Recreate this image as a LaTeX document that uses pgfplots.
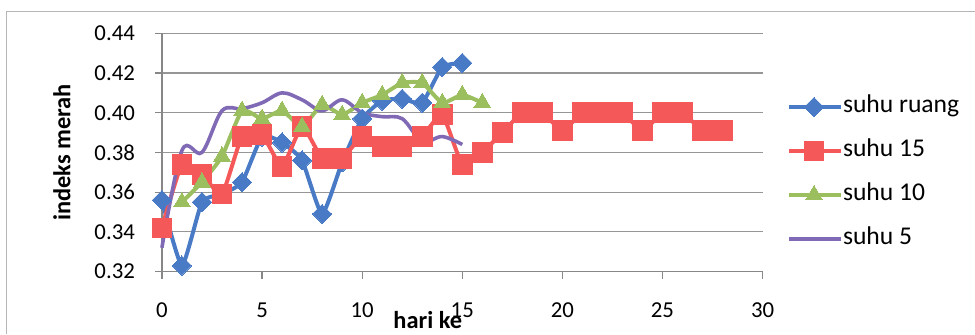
\documentclass[border=0pt]{standalone}
\usepackage{pgfplots}
\pgfplotsset{compat=1.18}
\usepackage{fontspec}
\setmainfont{Carlito}

\definecolor{cRuang}{RGB}{72,122,198}
\definecolor{cLimabelas}{RGB}{245,88,88}
\definecolor{cSepuluh}{RGB}{155,190,95}
\definecolor{cLima}{RGB}{128,106,182}
\definecolor{cGrid}{RGB}{150,150,150}

\begin{document}
\begin{tikzpicture}
\begin{axis}[
  at={(0pt,0pt)}, anchor=south west,
  scale only axis,
  width=300.5pt, height=119.2pt,
  xmin=0, xmax=30, ymin=0.32, ymax=0.44,
  xtick={0,5,...,30},
  ytick={0.32,0.34,...,0.44},
  scaled y ticks=false,
  yticklabel style={xshift=-6.5pt, /pgf/number format/fixed, /pgf/number format/fixed zerofill, /pgf/number format/precision=2},
  /pgf/number format/assume math mode=true,
  ticklabel style={font=\fontsize{11.4}{13.6}\selectfont},
  xticklabel style={yshift=-8.5pt},
  axis lines*=left,
  axis line style={cGrid!90!black, line width=0.6pt, -},
  tick align=outside,
  major tick length=3.5pt,
  tick style={cGrid!90!black, line width=0.6pt},
  ymajorgrids,
  grid style={cGrid, line width=0.6pt},
  xlabel={\bfseries hari ke},
  ylabel={\bfseries indeks merah},
  xlabel style={at={(axis description cs:0.4426,-0.205)}, anchor=center, font=\fontsize{12.2}{14.6}\selectfont},
  ylabel style={at={(axis description cs:-0.1664,0.5)}, anchor=center, font=\fontsize{12.2}{14.6}\selectfont},
  legend style={at={(axis description cs:1.040,0.414)}, anchor=west,
    draw=none, fill=none, inner sep=0pt,
    row sep=11pt, column sep=0pt,
    font=\fontsize{12.8}{15}\selectfont,
    nodes={inner sep=0pt, text height=8.5pt, text depth=2.5pt}},
  legend cell align=left,
  legend image code/.code={%
    \draw[mark repeat=2, mark phase=2, #1]
      plot coordinates {(0pt,0pt) (12.5pt,0pt) (25pt,0pt)};
    \path (25pt,0pt) -- (26pt,0pt);},
  clip=false,
]
% suhu ruang
\addplot[cRuang, line width=2pt, smooth, tension=0.3, mark=square*, mark size=3.4pt,
  mark options={solid, rotate=45, fill=cRuang, draw=cRuang, line width=0pt}]
  coordinates {
  (0,0.356) (1,0.323) (2,0.355) (3,0.359) (4,0.365) (5,0.388) (6,0.385)
  (7,0.376) (8,0.349) (9,0.375) (10,0.397) (11,0.406) (12,0.407)
  (13,0.405) (14,0.423) (15,0.425)};
\addlegendentry{suhu ruang}
% suhu 15
\addplot[cLimabelas, line width=2pt, smooth, tension=0.3, mark=square*, mark size=4.9pt,
  mark options={solid, fill=cLimabelas, draw=cLimabelas, line width=0pt}]
  coordinates {
  (0,0.342) (1,0.374) (2,0.369) (3,0.359) (4,0.388) (5,0.389) (6,0.373)
  (7,0.393) (8,0.377) (9,0.377) (10,0.388) (11,0.383) (12,0.383)
  (13,0.388) (14,0.399) (15,0.374) (16,0.380) (17,0.390) (18,0.400)
  (19,0.400) (20,0.391) (21,0.400) (22,0.400) (23,0.400) (24,0.391)
  (25,0.400) (26,0.400) (27,0.391) (28,0.391)};
\addlegendentry{suhu 15}
% suhu 10
\addplot[cSepuluh, line width=2pt, smooth, tension=0.3, mark=triangle*, mark size=4.8pt,
  mark options={solid, fill=cSepuluh, draw=cSepuluh, line width=0pt}]
  coordinates {
  (1,0.355) (2,0.365) (3,0.378) (4,0.401) (5,0.397) (6,0.401) (7,0.393)
  (8,0.404) (9,0.399) (10,0.405) (11,0.409) (12,0.415) (13,0.415)
  (14,0.405) (15,0.409) (16,0.405)};
\addlegendentry{suhu 10}
% suhu 5
\addplot[cLima, line width=1.8pt, smooth, tension=0.55, mark=none]
  coordinates {
  (0,0.332) (1,0.381) (2,0.380) (3,0.401) (4,0.402) (5,0.405) (6,0.410)
  (7,0.4065) (8,0.401) (9,0.4065) (10,0.400) (11,0.398) (12,0.397)
  (13,0.3855) (14,0.388) (15,0.384)};
\addlegendentry{suhu 5}
\end{axis}
\pgfresetboundingbox
\draw[cGrid!70, line width=0.5pt] (-77.5pt,-31.15pt) -- (-77.5pt,130.35pt) -- (406.5pt,130.35pt);
\path[use as bounding box] (-81pt,-31.15pt) rectangle (406.5pt,135.85pt);
\end{tikzpicture}
\end{document}
